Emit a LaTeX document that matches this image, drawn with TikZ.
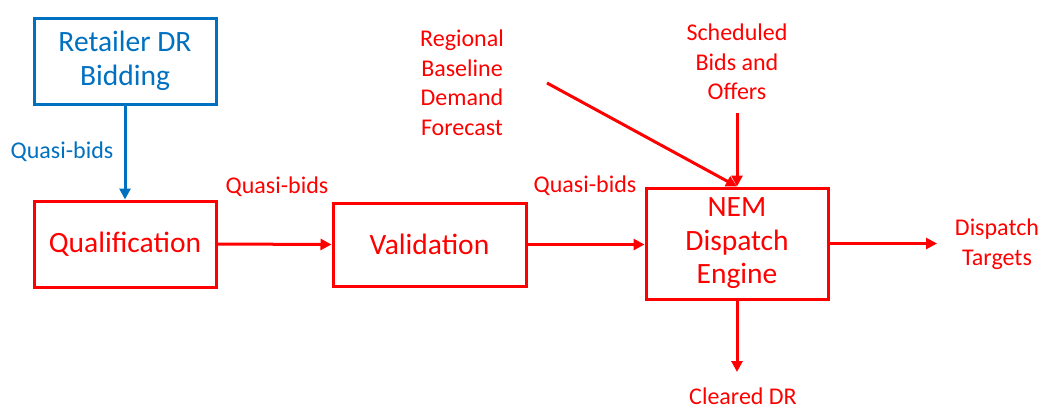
\documentclass[tikz,border=0pt]{standalone}
\usepackage{fontspec}
\setmainfont{Carlito}
\usetikzlibrary{arrows.meta}
\definecolor{drred}{RGB}{255,0,0}
\definecolor{drblue}{RGB}{0,112,192}
\tikzset{
  blockbox/.style={draw, line width=3pt, inner sep=0pt, align=center,
    font=\fontsize{29.5}{33.5}\selectfont},
  lbl/.style={inner sep=0pt, align=center, font=\fontsize{24}{29.5}\selectfont},
  flow/.style={line width=3pt, -{Triangle[length=11pt,width=11pt]}},
}
\begin{document}
\begin{tikzpicture}[x=1pt,y=-1pt]
\useasboundingbox (0,0) rectangle (1043,405);

% process blocks
\node[blockbox, drblue, minimum width=182pt, minimum height=86pt] (retailer) at (125,61) {Retailer DR\\Bidding};
\node[blockbox, drred, minimum width=182pt, minimum height=86pt] (qual) at (125,244) {Qualification};
\node[blockbox, drred, minimum width=193pt, minimum height=83pt] (valid) at (429.5,244.5) {Validation};
\node[blockbox, drred, minimum width=182pt, minimum height=111pt] (nem) at (737,243.5) {NEM\\Dispatch\\Engine};

% labels
\node[lbl, drblue] (qb1) at (62,152) {Quasi-bids};
\node[lbl, drred] (qb2) at (277,187) {Quasi-bids};
\node[lbl, drred] (qb3) at (585,186) {Quasi-bids};
\node[lbl, drred] (regional) at (462,83) {Regional\\Baseline\\Demand\\Forecast};
\node[lbl, drred] (sched) at (737,62) {Scheduled\\Bids and\\Offers};
\node[lbl, drred] (targets) at (997,244) {Dispatch\\Targets};
\node[lbl, drred, anchor=base] (cleared) at (743,404) {Cleared DR};

% free ends of connectors
\coordinate (fcstart) at (547,83);
\coordinate (schedstart) at (737,113);
\coordinate (targetend) at (937,243.5);
\coordinate (clearedend) at (737,372);

% connectors
\draw[flow, drblue] (retailer.south) -- (qual.north);
\draw[flow, drred] (qual.east) -- (valid.west);
\draw[flow, drred] (valid.east) -- (nem.west |- valid.east);
\draw[flow, drred] (fcstart) -- (nem.north);
\draw[flow, drred] (schedstart) -- (nem.north);
\draw[flow, drred] (nem.east) -- (targetend);
\draw[flow, drred] (nem.south) -- (clearedend);
\end{tikzpicture}
\end{document}
